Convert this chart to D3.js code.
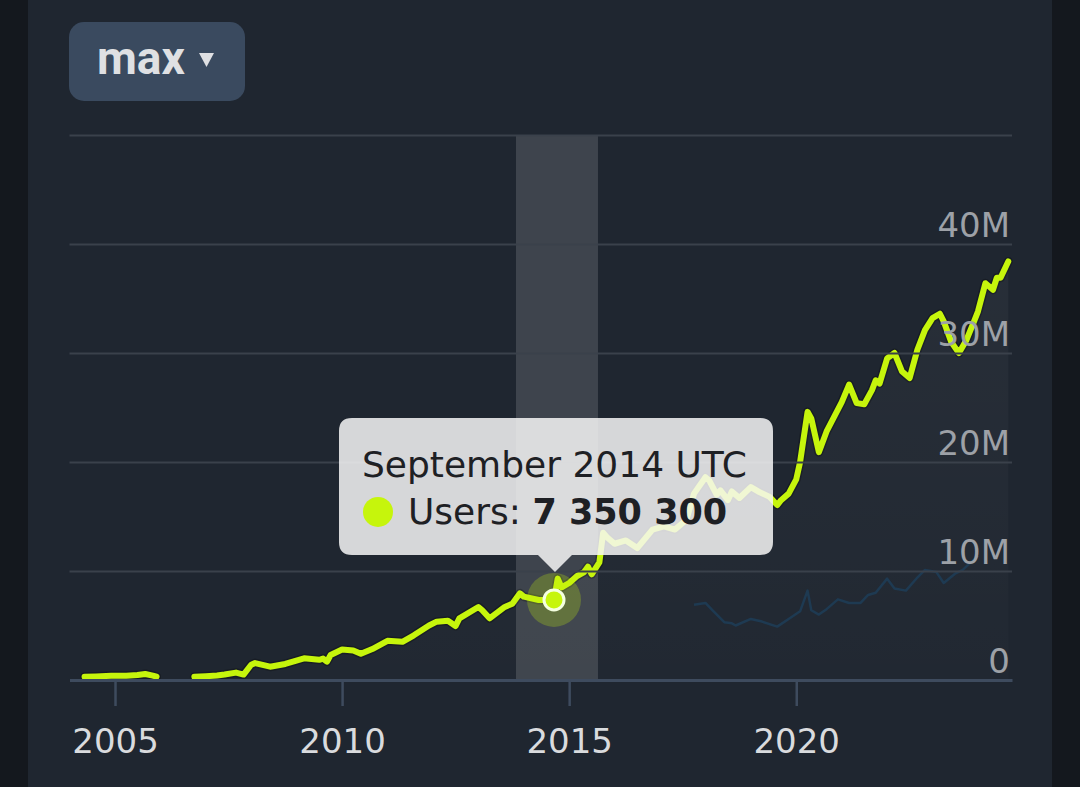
<!DOCTYPE html>
<html><head><meta charset="utf-8">
<script src="https://cdn.jsdelivr.net/npm/d3@7"></script>
<style>html,body{margin:0;padding:0;background:#14181e;} svg{display:block}</style>
</head><body><svg id="c" width="1080" height="787"></svg>
<script>
// ---- data (values in millions) ----
const usersDates = ["2004-05","2004-08","2004-12","2005-04","2005-07","2005-09","2005-11","2005-12","2006-05",
"2006-10","2007-01","2007-04","2007-06","2007-09","2007-11","2008-01","2008-02","2008-06","2008-10",
"2009-03","2009-05","2009-07","2009-08","2009-09","2009-10","2010-01","2010-04","2010-06","2010-09",
"2011-01","2011-05","2011-08","2011-12","2012-02","2012-05","2012-07","2012-08","2013-01","2013-02",
"2013-04","2013-08","2013-10","2013-12","2014-01","2014-05","2014-09","2014-10","2014-11","2015-01",
"2015-03","2015-05","2015-06","2015-07","2015-09","2015-10","2015-11","2016-01","2016-04","2016-07",
"2016-11","2017-02","2017-05","2017-08","2017-10","2018-01","2018-02","2018-04","2018-05","2018-07",
"2018-08","2018-10","2019-01","2019-03","2019-06","2019-08","2019-09","2019-11","2020-01","2020-02",
"2020-04","2020-05","2020-07","2020-09","2021-01","2021-03","2021-05","2021-07","2021-09","2021-10",
"2021-11","2022-01","2022-03","2022-05","2022-07","2022-09","2022-11","2023-01","2023-03","2023-04",
"2023-06","2023-08","2023-10","2023-12","2024-01","2024-03","2024-05","2024-06","2024-07","2024-09"];
const usersValues = [0.30,0.33,0.38,0.40,0.45,0.55,0.40,0.30,null,
0.30,0.35,0.42,0.50,0.68,0.50,1.40,1.55,1.22,1.47,
1.99,1.92,1.85,1.96,1.68,2.30,2.80,2.70,2.40,2.84,
3.60,3.50,4.10,5.00,5.35,5.44,4.95,5.66,6.70,6.40,
5.66,6.70,7.00,7.95,7.65,7.34,7.3503,9.30,8.50,8.90,
9.50,9.90,10.40,9.70,10.80,13.50,13.10,12.50,12.80,12.10,
13.80,14.10,13.80,14.70,17.10,18.60,18.30,17.00,17.40,16.50,
17.30,16.70,17.70,17.30,16.80,16.05,16.50,17.10,18.40,20.00,
24.60,24.00,20.90,22.80,25.50,27.10,25.40,25.30,26.60,27.50,
27.20,29.50,30.00,28.30,27.70,30.30,32.10,33.20,33.60,32.90,
31.00,30.00,31.20,32.90,33.80,36.40,35.80,36.90,36.90,38.40];
const otherDates = ["2017-10","2018-01","2018-03","2018-06","2018-08","2018-09","2019-01","2019-04","2019-08",
"2019-11","2020-02","2020-04","2020-05","2020-07","2020-09","2020-12","2021-03","2021-06","2021-08",
"2021-10","2022-01","2022-03","2022-06","2022-09","2022-11","2023-02","2023-04","2023-07","2023-09","2024-01"];
const otherValues = [6.90,7.07,6.36,5.30,5.20,5.00,5.60,5.36,4.90,
5.60,6.30,8.20,6.40,6.00,6.50,7.40,7.07,7.07,7.80,
8.00,9.30,8.40,8.20,9.40,10.10,9.90,8.90,9.75,10.10,11.40];
const xTickYears = [2005, 2010, 2015, 2020];
const yTickValues = [0, 10, 20, 30, 40, 50];
const yTickLabels = ["0", "10M", "20M", "30M", "40M", ""];
const rangeLabel = "max";
const tooltipTitle = "September 2014 UTC";
const tooltipSeries = "Users";
const tooltipDate = "2014-09";
const tooltipValue = 7350300;

// ---- drawing ----
const GREEN = "#c6f50c";
const parse = d3.utcParse("%Y-%m");
const svg = d3.select("#c");
const x = d3.scaleUtc().domain([new Date(Date.UTC(2004,0,1)), new Date(Date.UTC(2024,9,1))]).range([69.5, 1012]);
const y = d3.scaleLinear().domain([0, 50]).range([680, 135]);
const users = usersDates.map((d,i)=>({date:parse(d), v:usersValues[i]}));
const other = otherDates.map((d,i)=>({date:parse(d), v:otherValues[i]}));

svg.append("rect").attr("width",1080).attr("height",787).attr("fill","#14181e");
svg.append("rect").attr("x",28).attr("width",1024).attr("height",787).attr("fill","#1f2630");

// area gradient
const defs = svg.append("defs");
const g1 = defs.append("linearGradient").attr("id","ag").attr("x1",0).attr("y1",0).attr("x2",0).attr("y2",1);
g1.append("stop").attr("offset","0").attr("stop-color","#ffffff").attr("stop-opacity",0.04);
g1.append("stop").attr("offset","1").attr("stop-color","#ffffff").attr("stop-opacity",0.01);
const area = d3.area().defined(d=>d.v!=null).x(d=>x(d.date)).y0(y(0)).y1(d=>y(d.v));
svg.append("path").datum(users).attr("d",area).attr("fill","url(#ag)");

// grid via y axis
const yAxis = svg.append("g").attr("transform","translate(1012,0)")
  .call(d3.axisLeft(y).tickValues(yTickValues).tickSize(1012-69.5).tickFormat((d,i)=>yTickLabels[i]));
yAxis.select(".domain").remove();
yAxis.selectAll(".tick line").attr("stroke","#3a414b").attr("stroke-width",2)
  .filter(d=>d===0).remove();

// crosshair band
const hp = {date:parse(tooltipDate), v:tooltipValue/1e6};
const px = x(hp.date), py = y(hp.v);
svg.append("rect").attr("x",px-38).attr("y",y(50)).attr("width",82).attr("height",y(0)-y(50))
  .attr("fill","#ffffff").attr("fill-opacity",0.14);

// series
const line = d3.line().defined(d=>d.v!=null).x(d=>x(d.date)).y(d=>y(d.v)).curve(d3.curveLinear);
svg.append("path").datum(other).attr("d",line).attr("fill","none").attr("stroke","#1e3a52")
  .attr("stroke-width",2.5).attr("stroke-linejoin","round");
svg.append("path").datum(users).attr("d",line).attr("fill","none").attr("stroke","#000")
  .attr("stroke-opacity",0.25).attr("stroke-width",9).attr("stroke-linejoin","round").attr("stroke-linecap","round");
svg.append("path").datum(users).attr("d",line).attr("fill","none").attr("stroke",GREEN)
  .attr("stroke-width",6).attr("stroke-linejoin","round").attr("stroke-linecap","round");

// x axis
const xAxis = svg.append("g").attr("transform",`translate(0,${y(0)})`)
  .call(d3.axisBottom(x).tickValues(xTickYears.map(yr=>new Date(Date.UTC(yr,0,1))))
    .tickSize(26).tickSizeOuter(0).tickFormat(d3.utcFormat("%Y")));
xAxis.select(".domain").attr("stroke","#3e4b5e").attr("stroke-width",3);
xAxis.selectAll(".tick line").attr("stroke","#3e4b5e").attr("stroke-width",2.5);
xAxis.selectAll(".tick text").attr("y",73).attr("dy",0).attr("fill","#d9dbde")
  .style("font-family","'DejaVu Sans'").style("font-size","34px");

// y labels on top
yAxis.raise();
yAxis.selectAll(".tick text").attr("x",-2).attr("dy",0).attr("y",-8).attr("text-anchor","end")
  .attr("fill","#9da1a7").style("font-family","'DejaVu Sans'").style("font-size","34px");

// highlighted point
svg.append("circle").attr("cx",px).attr("cy",py).attr("r",27).attr("fill",GREEN).attr("fill-opacity",0.25);
svg.append("circle").attr("cx",px).attr("cy",py).attr("r",10).attr("fill",GREEN).attr("stroke","#f4ffe0").attr("stroke-width",3);

// tooltip
const ax = px+1, ay = py-28, b = ay-17, t = b-137, l = px-215, rr = l+434, r = 13;
const tipPath = `M${l+r},${t}H${rr-r}Q${rr},${t} ${rr},${t+r}V${b-r}Q${rr},${b} ${rr-r},${b}H${ax+17}L${ax},${ay}L${ax-17},${b}H${l+r}Q${l},${b} ${l},${b-r}V${t+r}Q${l},${t} ${l+r},${t}Z`;
svg.append("path").attr("d",tipPath).attr("fill","rgb(247,247,247)").attr("fill-opacity",0.85);
const tf = "'DejaVu Sans'";
svg.append("text").attr("x",l+23).attr("y",t+59).text(tooltipTitle)
  .attr("fill","#1e2024").style("font-family",tf).style("font-size","36px");
svg.append("circle").attr("cx",l+39).attr("cy",t+94).attr("r",15).attr("fill",GREEN);
const t2 = svg.append("text").attr("x",l+69).attr("y",t+106).attr("fill","#1e2024")
  .style("font-family",tf).style("font-size","36px");
t2.append("tspan").text(tooltipSeries + ": ");
t2.append("tspan").attr("font-weight","bold").style("font-size","35px").text(d3.format(",")(tooltipValue).replace(/,/g," "));

// range button
svg.append("rect").attr("x",69).attr("y",22).attr("width",176).attr("height",79).attr("rx",15).attr("fill","#3a4a5f");
svg.append("text").attr("x",97).attr("y",74).text(rangeLabel).attr("fill","#dfe0e3")
  .style("font-family","Roboto").style("font-weight","bold").style("font-size","46px");
svg.append("path").attr("d","M199,53H214L206.5,67Z").attr("fill","#dfe0e3");
</script></body></html>
